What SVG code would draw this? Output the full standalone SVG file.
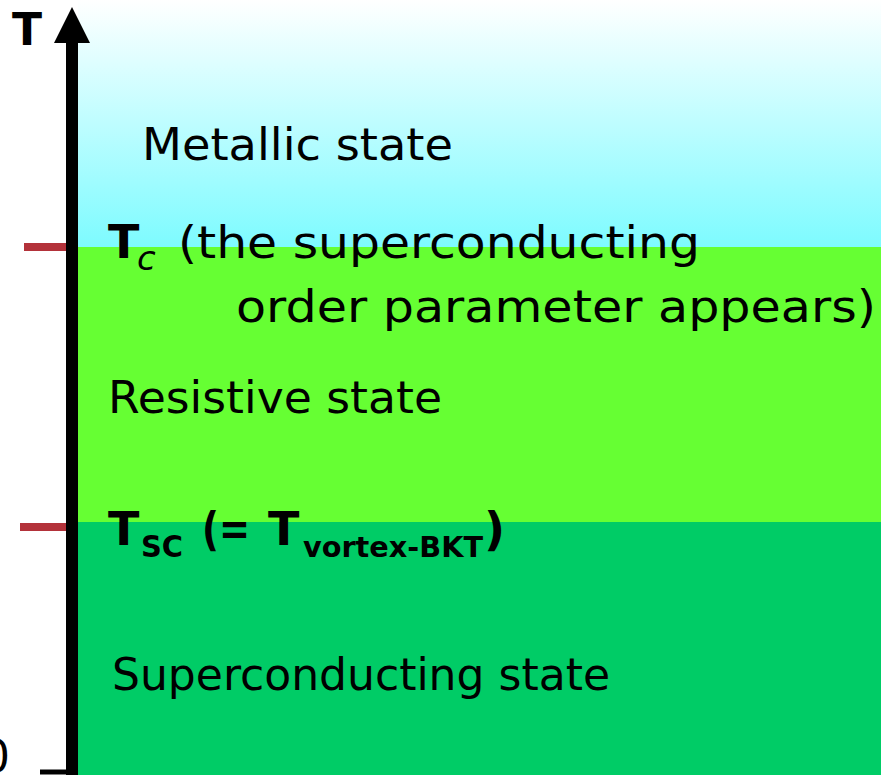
<svg xmlns="http://www.w3.org/2000/svg" width="881" height="775" viewBox="0 0 881 775">
<defs>
<linearGradient id="metal" x1="0" y1="0" x2="0" y2="1">
<stop offset="0" stop-color="#FFFFFF"/>
<stop offset="1" stop-color="#7DFBFF"/>
</linearGradient>
</defs>
<style>
.t{font-family:"Comic Sans MS","DejaVu Sans","Liberation Sans",sans-serif;fill:#000;}
.lbl{font-size:44px;}
.b{font-weight:bold;}
.tick{stroke:#B3323A;stroke-width:8;}
</style>
<rect width="881" height="775" fill="#FFFFFF"/>
<g id="metallic">
<rect x="78" y="0" width="803" height="247" fill="url(#metal)"/>
<text class="t lbl" x="142" y="160" textLength="311" lengthAdjust="spacingAndGlyphs">Metallic state</text>
</g>
<g id="resistive">
<rect x="78" y="247" width="803" height="275" fill="#66FF33"/>
<text class="t lbl" x="108" y="413" textLength="334" lengthAdjust="spacingAndGlyphs">Resistive state</text>
</g>
<g id="superconducting">
<rect x="78" y="522" width="803" height="253" fill="#00CC66"/>
<text class="t lbl" x="112" y="690" textLength="498" lengthAdjust="spacingAndGlyphs">Superconducting state</text>
</g>
<g id="tc-label">
<text class="t b" x="108" y="258" font-size="46">T</text>
<text class="t" x="137" y="270" font-size="34" font-style="italic">c</text>
<text class="t lbl" x="178" y="258" textLength="522" lengthAdjust="spacingAndGlyphs">(the superconducting</text>
<text class="t lbl" x="236" y="322" textLength="640" lengthAdjust="spacingAndGlyphs">order parameter appears)</text>
</g>
<g id="tsc-label">
<text class="t b" x="108" y="545" font-size="46">T</text>
<text class="t b" x="141" y="557" font-size="30" textLength="42" lengthAdjust="spacingAndGlyphs">SC</text>
<text class="t b" x="202" y="545" font-size="46" textLength="48" lengthAdjust="spacingAndGlyphs">(=</text>
<text class="t b" x="268" y="545" font-size="46">T</text>
<text class="t b" x="303" y="557" font-size="28" textLength="180" lengthAdjust="spacingAndGlyphs">vortex-BKT</text>
<text class="t b" x="484" y="545" font-size="46">)</text>
</g>
<g id="axis">
<line x1="72" y1="40" x2="72" y2="775" stroke="#000" stroke-width="12"/>
<polygon points="72,7 90,43 54,43" fill="#000"/>
<text class="t b" x="12" y="45" font-size="44">T</text>
<text class="t" x="-18" y="772" font-size="44">0</text>
<line x1="40" y1="772" x2="72" y2="772" stroke="#000" stroke-width="5"/>
</g>
<g id="connectors">
<line class="tick" x1="24" y1="247" x2="66" y2="247"/>
<line class="tick" x1="20" y1="527" x2="66" y2="527"/>
</g>
</svg>
